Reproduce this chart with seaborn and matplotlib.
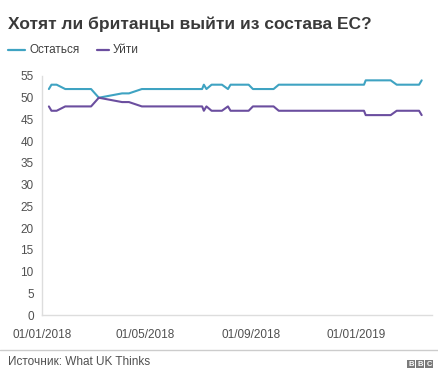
import matplotlib
matplotlib.use("Agg")
import matplotlib.pyplot as plt
import matplotlib.dates as mdates
from matplotlib.lines import Line2D
from matplotlib.patches import Rectangle
import pandas as pd
import seaborn as sns

# Poll-of-polls: share of respondents (%) on each survey date
dates = [
    "2018-01-09", "2018-01-12", "2018-01-18", "2018-01-28", "2018-02-27",
    "2018-03-08", "2018-04-04", "2018-04-12", "2018-04-27", "2018-07-06",
    "2018-07-08", "2018-07-11", "2018-07-17", "2018-07-29", "2018-08-05",
    "2018-08-08", "2018-08-29", "2018-09-03", "2018-09-27", "2018-10-03",
    "2019-01-10", "2019-01-12", "2019-02-10", "2019-02-17", "2019-03-15",
    "2019-03-18",
]
remain = [52, 53, 53, 52, 52, 50, 51, 51, 52, 52,
          53, 52, 53, 53, 52, 53, 53, 52, 52, 53,
          53, 54, 54, 53, 53, 54]
leave = [48, 47, 47, 48, 48, 50, 49, 49, 48, 48,
         47, 48, 47, 47, 48, 47, 47, 48, 48, 47,
         47, 46, 46, 47, 47, 46]

series_names = ["Остаться", "Уйти"]
series_colors = ["#3fa3c2", "#6b4e9f"]
x_ticks = ["2018-01-01", "2018-05-01", "2018-09-01", "2019-01-01"]
y_ticks = list(range(0, 60, 5))

title = "Хотят ли британцы выйти из состава ЕС?"
source = "Источник: What UK Thinks"

df = pd.concat([
    pd.DataFrame({"date": pd.to_datetime(dates), "value": remain, "answer": series_names[0]}),
    pd.DataFrame({"date": pd.to_datetime(dates), "value": leave, "answer": series_names[1]}),
])

sns.set_style("white")
plt.rcParams["font.family"] = ["Liberation Sans", "DejaVu Sans"]

W, H = 438, 369
fig = plt.figure(figsize=(W / 100, H / 100), dpi=100)
ax = fig.add_axes([42 / W, 1 - 315 / H, (432 - 42) / W, (315 - 76) / H])

sns.lineplot(data=df, x="date", y="value", hue="answer",
             palette=dict(zip(series_names, series_colors)),
             linewidth=1.5, legend=False, ax=ax)

ax.set_xlim(pd.Timestamp("2018-01-01"), pd.Timestamp("2019-03-30"))
ax.set_ylim(0, 55)
ax.set_yticks(y_ticks)
ax.set_xticks(pd.to_datetime(x_ticks))
ax.xaxis.set_major_formatter(mdates.DateFormatter("%d/%m/%Y"))
ax.set_xlabel("")
ax.set_ylabel("")
ax.tick_params(axis="both", length=0, labelsize=8.5, labelcolor="#505050")
ax.tick_params(axis="x", pad=10)
ax.tick_params(axis="y", pad=6)
for side in ("top", "right"):
    ax.spines[side].set_visible(False)
for side in ("left", "bottom"):
    ax.spines[side].set_color("#dddddd")
    ax.spines[side].set_linewidth(1)
ax.grid(False)

# Title
fig.text(8 / W, 1 - 28.5 / H, title, fontsize=12.5, fontweight="bold",
         color="#3a3a3a", va="baseline", ha="left")

# Legend
ly = 1 - 50 / H
for (x0, x1, tx), name, col in zip([(8, 25, 30), (97, 109, 113)], series_names, series_colors):
    fig.add_artist(Line2D([x0 / W, x1 / W], [ly, ly], color=col, linewidth=1.6))
    fig.text(tx / W, ly, name, fontsize=8.5, color="#404040", va="center", ha="left")

# Footer
fig.add_artist(Line2D([0, 1], [1 - 350 / H] * 2, color="#cccccc", linewidth=1))
fig.text(8 / W, 1 - 362 / H, source, fontsize=8.5, color="#505050", va="center", ha="left")
for i, letter in enumerate("BBC"):
    x0 = 407 + i * 9
    fig.add_artist(Rectangle((x0 / W, 1 - 368 / H), 8 / W, 8 / H,
                             transform=fig.transFigure, facecolor="#7a7a7a", edgecolor="none"))
    fig.text((x0 + 4) / W, 1 - 364 / H, letter, fontsize=5.5, fontweight="bold",
             color="white", ha="center", va="center")

fig.savefig("out.png", dpi=100)
